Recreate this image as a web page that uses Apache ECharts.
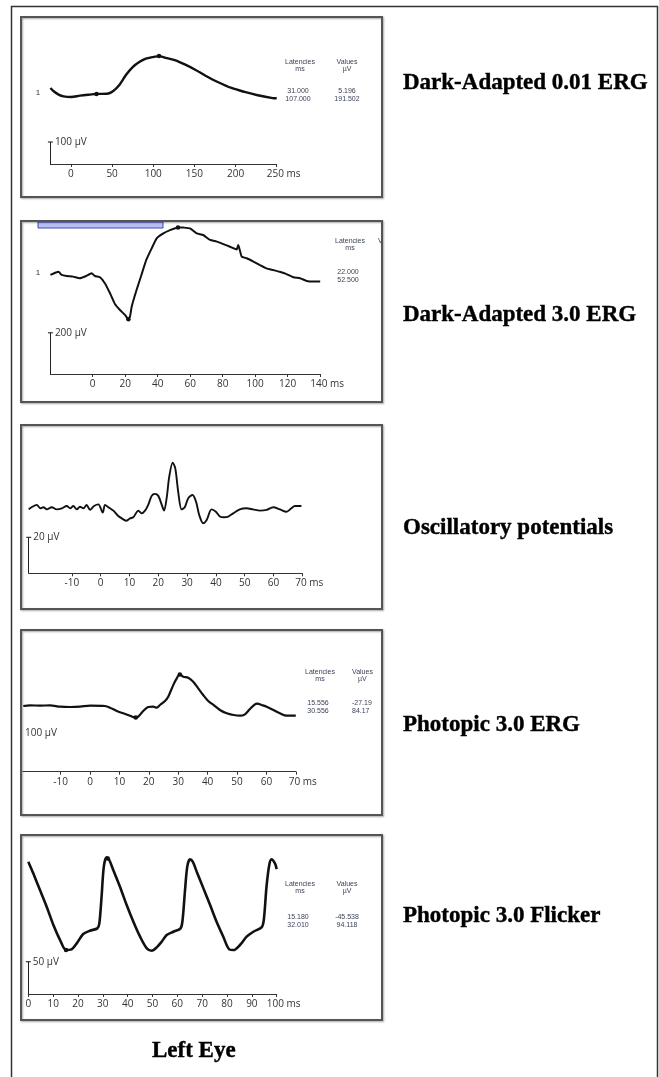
<!DOCTYPE html>
<html>
<head>
<meta charset="utf-8">
<script src="https://cdn.jsdelivr.net/npm/echarts@6/dist/echarts.min.js"></script>
<style>
html, body { margin: 0; background: #fff; }
#erg { width: 659px; height: 1077px; }
</style>
</head>
<body>
<div id="erg"></div>
<script>
// traces: [ms, µV]
var p1Trace = [[-25,41],[-21,26],[-15,11],[-9,3],[0,0],[11,6],[23,11],[31,14],[44,15],[51,26],[59,56],[67,101],[75,136],[83,159],[91,174],[99,181],[107,186],[115,178],[127,167],[139,147],[151,124],[163,98],[179,67],[195,41],[211,23],[227,8],[245,-5],[250,-6]];
var p2Trace = [[-26,5],[-23,16],[-21,21],[-19,5],[-16,0],[-12,-3],[-8,-11],[-4,0],[-0.6,13],[1.4,0],[4.5,-6],[7.6,-36],[10.7,-84],[13.7,-136],[16.8,-165],[19.9,-189],[22,-210],[23,-197],[24,-149],[27,-68],[30,5],[33,78],[36.3,134],[39.4,183],[43.5,207],[47.6,223],[52.5,236],[55.8,235],[59.9,231],[64,207],[68,199],[72.2,175],[76.3,167],[80.4,155],[84.5,142],[88.6,129],[89.6,150],[91.7,94],[94.8,86],[98.9,70],[103,53],[107,37],[111,29],[115,21],[119,10],[123.5,-6],[127.6,-11],[131.7,-24],[135.8,-27],[140,-27]];
var p3Trace = [[-25,-0.6],[-24,0.6],[-22.2,1.9],[-21,0],[-19.9,0.6],[-18.7,-0.6],[-17,0.6],[-15.3,-0.6],[-13.5,0],[-11.8,1.3],[-10.6,0],[-9.5,1.3],[-8.3,-0.6],[-7.2,0.9],[-6,0],[-4.9,1.9],[-3.7,-0.9],[-2.3,1.3],[-0.8,2.2],[0.7,-2.4],[1.5,1.9],[2.7,0.6],[4.4,-1.3],[6.1,-4.3],[7.3,-5.6],[8.8,-6.9],[10.2,-5.6],[11.3,-5],[13.1,-1.3],[14.2,-2.8],[15.4,-1.3],[16.5,1.9],[17.7,6.9],[18.8,8],[20,6.9],[21.2,1.9],[22,-1.3],[22.9,5.6],[23.8,17.6],[25,25.4],[25.9,22.2],[26.9,9.3],[28.1,-0.6],[29.2,0.6],[30.4,5.6],[31.9,7.4],[33.1,3.7],[34.2,-3.7],[35.6,-8.3],[36.8,-6.5],[38.5,-0.6],[40,-1.9],[41.4,-4.6],[42.8,-5],[44.3,-4.6],[46,-2.8],[48.3,-0.6],[50.6,0],[52.9,-0.6],[55.3,-1.3],[57.6,-0.9],[59.9,0.6],[62.2,-0.6],[64.5,-1.9],[66.2,0],[67.4,1.3],[69.7,1.3]];
var p4Trace = [[-22.7,0],[-20.4,1.7],[-17,1],[-13.6,1.7],[-10.2,-1.7],[-6.8,-2.6],[-3.4,-1.7],[0,1],[5.1,0],[6.8,-4.3],[9.1,-12.9],[11.3,-18.9],[13.6,-25],[15.5,-30],[16.4,-27.6],[18.1,-12.9],[19.8,-2.6],[21.5,-1.7],[22.7,-4.3],[23.8,2.6],[25.5,12.9],[26.6,24],[28.3,54],[29.5,71.5],[30.5,82],[31.7,75.8],[33.4,73.2],[35.1,62.9],[36.8,45.6],[38.5,28.4],[40.2,12.9],[42,2.6],[44.2,-10.3],[46.5,-18.9],[48.8,-23.2],[51,-25],[52.7,-21.5],[54.4,-7.7],[56.1,4.3],[56.9,6],[58.4,2.6],[60.1,-1.7],[62.4,-10.3],[64.6,-18.9],[66.9,-25],[70,-25]];
var p5Trace = [[0,91.5],[2,73.4],[4.7,47.6],[7.4,21.7],[10.1,-6.7],[12.8,-30],[15.2,-45.5],[17.4,-44.5],[19.5,-35.2],[22.1,-20.7],[24.8,-15.5],[27.8,-11.9],[28.6,-4.1],[29.5,37.2],[30.4,83.8],[31.5,98.2],[32.6,94.1],[34.2,78.6],[36.9,52.7],[39.6,24.3],[42.3,-1.6],[45,-24.8],[47.7,-42.9],[49.7,-46.5],[51.7,-41.4],[53.7,-32.6],[55.7,-22.2],[58.4,-17.1],[61.3,-11.9],[62.1,1],[63.1,47.6],[64,83.8],[65.1,95.1],[66.2,91.5],[67.8,76],[70.5,50.1],[73.2,24.3],[75.8,-1.6],[78.5,-24.8],[80.9,-44.5],[82.6,-45.5],[85.2,-37.7],[87.9,-24.8],[90.6,-17.1],[93.9,-10.3],[94.8,1],[95.9,52.7],[97,86.3],[97.9,95.1],[99.3,88.9],[100,80]];

var p1Ticks = [0, 50, 100, 150, 200, 250];
var p2Ticks = [0, 20, 40, 60, 80, 100, 120, 140];
var p3Ticks = [-10, 0, 10, 20, 30, 40, 50, 60, 70];
var p4Ticks = [-10, 0, 10, 20, 30, 40, 50, 60, 70];
var p5Ticks = [0, 10, 20, 30, 40, 50, 60, 70, 80, 90, 100];

var scaleBars = [100, 200, 20, 100, 50];   // µV

var p1Lat = ['31.000', '107.000'], p1Val = ['5.196', '191.502'];
var p2Lat = ['22.000', '52.500'], p2Val = ['', ''];
var p4Lat = ['15.556', '30.556'], p4Val = ['-27.19', '84.17'];
var p5Lat = ['15.180', '32.010'], p5Val = ['-45.538', '94.118'];

var panelTitles = ['Dark-Adapted 0.01 ERG', 'Dark-Adapted 3.0 ERG', 'Oscillatory potentials', 'Photopic 3.0 ERG', 'Photopic 3.0 Flicker'];

// pixel layout of each panel
var panels = [
    {trace: p1Trace, ticks: p1Ticks, xMin: -25, xMax: 250, xL: 50.4, xR: 276.7, top: 28, axisY: 164, baseY: 97, px: 0.22, box: [21, 17, 361, 180], width: 2.4, smooth: 0.3, bar: true, peaks: p1Lat, titleY: 85},
    {trace: p2Trace, ticks: p2Ticks, xMin: -26, xMax: 140, xL: 50.4, xR: 320.2, top: 226, axisY: 374, baseY: 276, px: 0.206, box: [21, 221, 361, 181], width: 2, smooth: 0.15, bar: true, peaks: p2Lat, titleY: 317},
    {trace: p3Trace, ticks: p3Ticks, xMin: -25, xMax: 70, xL: 28.7, xR: 302.3, top: 430, axisY: 573.3, baseY: 508.3, px: 1.8, box: [21, 425, 361, 184], width: 1.9, smooth: 0.3, bar: true, peaks: [], titleY: 530},
    {trace: p4Trace, ticks: p4Ticks, xMin: -22.8, xMax: 70, xL: 23, xR: 295.8, top: 640, axisY: 771.7, baseY: 706, px: 0.387, box: [21, 630, 361, 185], width: 2.2, smooth: 0.3, bar: false, peaks: p4Lat, titleY: 727},
    {trace: p5Trace, ticks: p5Ticks, xMin: 0, xMax: 100, xL: 28.3, xR: 276.7, top: 840, axisY: 994, baseY: 920.7, px: 0.645, box: [21, 835, 361, 185], width: 2.6, smooth: 0.3, bar: true, peaks: p5Lat, titleY: 918}
];

function valueAt(trace, t) {
    for (var i = 1; i < trace.length; i++) {
        if (trace[i][0] >= t) {
            var a = trace[i - 1], b = trace[i];
            return a[1] + (b[1] - a[1]) * (t - a[0]) / (b[0] - a[0]);
        }
    }
    return trace[trace.length - 1][1];
}

var headingStyle = {fontFamily: 'Liberation Serif', fontWeight: 'bold', fontSize: 23, color: '#000',
    textBorderColor: '#000', textBorderWidth: 0.4};

var grids = [], xAxes = [], yAxes = [], series = [], titles = [], graphics = [];

panels.forEach(function (p, i) {
    var h = p.axisY - p.top;
    var yMin = -(p.axisY - p.baseY) / p.px;
    var yMax = yMin + h / p.px;
    var last = p.ticks[p.ticks.length - 1];

    grids.push({left: p.xL, width: p.xR - p.xL, top: p.top, height: h, containLabel: false});
    xAxes.push({
        gridIndex: i, type: 'value', min: p.xMin, max: p.xMax, position: 'bottom',
        axisLine: {show: true, onZero: false, lineStyle: {color: '#333', width: 1}},
        axisTick: {show: true, customValues: p.ticks, length: 3, lineStyle: {color: '#333'}},
        axisLabel: {
            customValues: p.ticks, margin: 5, fontSize: 10, color: '#333', fontFamily: 'Open Sans',
            formatter: function (v) { return v === last ? '{pad| }' + v + ' ms' : String(v); },
            rich: {pad: {width: 14}}
        },
        splitLine: {show: false}
    });
    yAxes.push({gridIndex: i, type: 'value', min: yMin, max: yMax, show: false});

    var marks = [];
    var barTop = yMin + scaleBars[i];
    marks.push({
        coord: [p.xMin, barTop], symbol: 'rect', symbolSize: p.bar ? [5, 1] : 0,
        label: {show: true, position: 'right', distance: 2, formatter: scaleBars[i] + ' µV',
            fontSize: 10, color: '#333', fontFamily: 'Open Sans'}
    });
    p.peaks.forEach(function (lat) {
        var t = parseFloat(lat);
        marks.push({coord: [t, valueAt(p.trace, t)], symbol: 'circle', symbolSize: 4.5, label: {show: false}});
    });

    series.push({
        type: 'line', xAxisIndex: i, yAxisIndex: i, data: p.trace,
        showSymbol: false, smooth: p.smooth,
        lineStyle: {color: '#111', width: p.width},
        markLine: p.bar ? {
            silent: true, symbol: ['none', 'none'], label: {show: false},
            lineStyle: {color: '#222', width: 1, type: 'solid'},
            data: [[{coord: [p.xMin, yMin]}, {coord: [p.xMin, barTop]}]]
        } : undefined,
        markPoint: {silent: true, itemStyle: {color: '#111'}, data: marks}
    });

    titles.push({text: panelTitles[i], left: 403, top: p.titleY - 13, padding: 0, textStyle: headingStyle});

    graphics.push({
        type: 'rect', z: 100,
        shape: {x: p.box[0], y: p.box[1], width: p.box[2], height: p.box[3]},
        style: {fill: null, stroke: '#555', lineWidth: 2, shadowBlur: 2, shadowOffsetX: 1, shadowOffsetY: 1, shadowColor: 'rgba(0,0,0,0.35)'}
    });
});

titles.push({text: 'Left Eye', left: 152, top: 1040, padding: 0, textStyle: headingStyle});

function tableText(x, y, s, align) {
    return {type: 'text', z: 50, x: x, y: y,
        style: {text: s, fill: '#3a3f55', font: '7px "Liberation Sans"', textAlign: align || 'center', textVerticalAlign: 'middle'}};
}

function addTable(lx, vx, hy, rowY, lat, val, valAlign) {
    graphics.push(tableText(lx, hy, 'Latencies'));
    graphics.push(tableText(lx, hy + 7, 'ms'));
    graphics.push(tableText(vx, hy, 'Values', valAlign));
    graphics.push(tableText(vx + (valAlign === 'left' ? 6 : 0), hy + 7, 'µV', valAlign));
    lat.forEach(function (s, k) {
        graphics.push(tableText(lx - 2, rowY + k * 8, s));
        graphics.push(tableText(vx, rowY + k * 8, val[k], valAlign));
    });
}

addTable(300, 347, 62, 91, p1Lat, p1Val);
addTable(350, 378, 241, 272, p2Lat, p2Val, 'left');
addTable(320, 352, 672, 703, p4Lat, p4Val, 'left');
addTable(300, 347, 884, 917, p5Lat, p5Val);

// baseline channel labels
graphics.push({type: 'text', z: 50, x: 38, y: 93, style: {text: '1', fill: '#333', font: '8px "Liberation Sans"', textAlign: 'center', textVerticalAlign: 'middle'}});
graphics.push({type: 'text', z: 50, x: 38, y: 273, style: {text: '1', fill: '#333', font: '8px "Liberation Sans"', textAlign: 'center', textVerticalAlign: 'middle'}});

// highlighted protocol label at top of panel 2
graphics.push({type: 'rect', z: 60, shape: {x: 38, y: 222, width: 125, height: 6},
    style: {fill: '#b9bff0', stroke: '#3a48c0', lineWidth: 1}});

// white strip hides text running past the panel frames
graphics.push({type: 'rect', z: 90, shape: {x: 383, y: 10, width: 18, height: 1020}, style: {fill: '#fff'}});

// outer frame
graphics.push({type: 'rect', z: 100, shape: {x: 11.5, y: 6.5, width: 646, height: 1090},
    style: {fill: null, stroke: '#333', lineWidth: 1.5}});

var erg = echarts.init(document.getElementById('erg'));

var erg_option = {
    animation: false,
    backgroundColor: '#fff',
    title: titles,
    grid: grids,
    xAxis: xAxes,
    yAxis: yAxes,
    series: series,
    graphic: graphics
};

erg.setOption(erg_option);
</script>
</body>
</html>
